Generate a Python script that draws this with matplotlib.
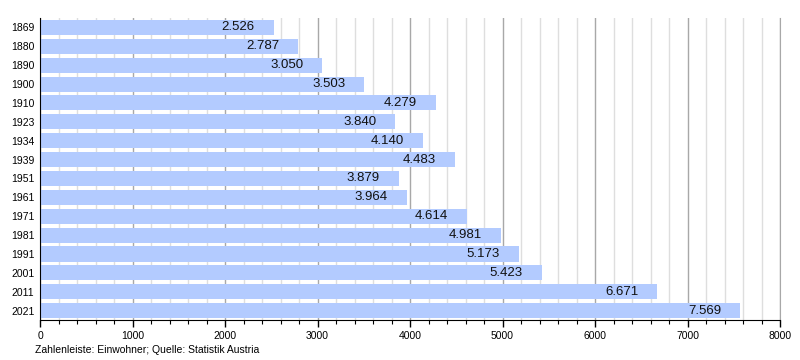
import matplotlib
matplotlib.use("Agg")
import matplotlib.pyplot as plt
from matplotlib.ticker import MultipleLocator

years = ["1869", "1880", "1890", "1900", "1910", "1923", "1934", "1939",
         "1951", "1961", "1971", "1981", "1991", "2001", "2011", "2021"]
population = [2526, 2787, 3050, 3503, 4279, 3840, 4140, 4483,
              3879, 3964, 4614, 4981, 5173, 5423, 6671, 7569]
value_labels = ["2.526", "2.787", "3.050", "3.503", "4.279", "3.840", "4.140", "4.483",
                "3.879", "3.964", "4.614", "4.981", "5.173", "5.423", "6.671", "7.569"]
x_ticks = [0, 1000, 2000, 3000, 4000, 5000, 6000, 7000, 8000]

plt.rcParams['font.family'] = ['Liberation Sans', 'DejaVu Sans']

fig = plt.figure(figsize=(8, 3.6), dpi=100)
ax = fig.add_axes([0.05, 0.111, 0.925, 0.839])

ypos = list(range(len(years)))
ax.barh(ypos, population, height=0.8, color="#b3cbff", zorder=3)
for y, v, lab in zip(ypos, population, value_labels):
    ax.annotate(lab, (v, y), xytext=(-13.5, 0), textcoords="offset points",
                ha="right", va="center", fontsize=9.5, color="#111111", zorder=4)

ax.set_xlim(0, 8000)
ax.set_ylim(len(years) - 0.5, -0.5)
ax.set_yticks(ypos)
ax.set_yticklabels(years, fontsize=7.5)
ax.set_xticks(x_ticks)
ax.set_xticklabels([str(t) for t in x_ticks], fontsize=7.5)
ax.xaxis.set_minor_locator(MultipleLocator(200))
ax.tick_params(axis="y", length=0, pad=4)
ax.tick_params(axis="x", which="major", length=5, width=1, direction="out", pad=3)
ax.tick_params(axis="x", which="minor", length=3, width=0.8, direction="out")

ax.grid(axis="x", which="major", color="#a8a8a8", linewidth=1, zorder=1)
ax.grid(axis="x", which="minor", color="#dedede", linewidth=1, zorder=0)
ax.set_axisbelow(True)

ax.spines["top"].set_visible(False)
ax.spines["right"].set_color("#a8a8a8")
ax.spines["left"].set_color("black")
ax.spines["bottom"].set_color("black")
ax.spines["left"].set_zorder(5)

fig.text(35 / 800, 1 - 350 / 360, "Zahlenleiste: Einwohner; Quelle: Statistik Austria",
         fontsize=7.5, ha="left", va="center")

fig.savefig("out.png", dpi=100)
